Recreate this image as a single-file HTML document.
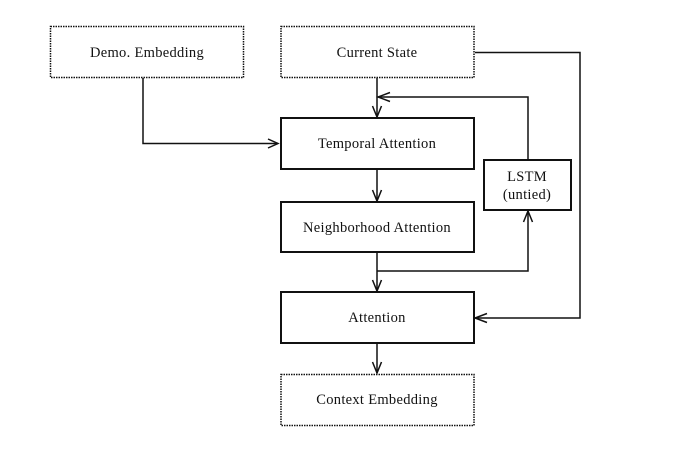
<!DOCTYPE html>
<html><head><meta charset="utf-8"><style>
html,body{margin:0;padding:0;background:#fff;width:696px;height:464px;overflow:hidden}
svg{display:block}
text{font-family:"Liberation Serif",serif;font-size:14.5px;fill:#111;text-anchor:middle;letter-spacing:0.3px}
</style></head><body>
<svg width="696" height="464" viewBox="0 0 696 464">
<g fill="none" stroke="#111">
<rect x="50.5" y="26.5" width="193" height="51" stroke-width="1.5" stroke-dasharray="1.5,1"/>
<rect x="281" y="26.5" width="193" height="51" stroke-width="1.5" stroke-dasharray="1.5,1"/>
<rect x="281" y="374.5" width="193" height="51" stroke-width="1.5" stroke-dasharray="1.5,1"/>
<rect x="281" y="118" width="193" height="51" stroke-width="2"/>
<rect x="281" y="202" width="193" height="50" stroke-width="2"/>
<rect x="281" y="292" width="193" height="51" stroke-width="2"/>
<rect x="484" y="160" width="87" height="50" stroke-width="2"/>
<g stroke-width="1.5">
<polyline points="143,78 143,143.5 278,143.5"/>
<polyline points="268,139 278,143.5 268,148"/>
<line x1="377" y1="78" x2="377" y2="117"/>
<polyline points="372.5,106 377,117 381.5,106"/>
<polyline points="528,160 528,97 378,97"/>
<polyline points="390,92.5 378,97 390,101.5"/>
<line x1="377" y1="169" x2="377" y2="201"/>
<polyline points="372.5,190 377,201 381.5,190"/>
<line x1="377" y1="252" x2="377" y2="291"/>
<polyline points="372.5,280 377,291 381.5,280"/>
<polyline points="377,271 528,271 528,211"/>
<polyline points="523.5,222 528,211 532.5,222"/>
<polyline points="475,52.5 580,52.5 580,318 475,318"/>
<polyline points="487,313.5 475,318 487,322.5"/>
<line x1="377" y1="343" x2="377" y2="373"/>
<polyline points="372.5,362 377,373 381.5,362"/>
</g>
</g>
<text x="147" y="57">Demo. Embedding</text>
<text x="377" y="57">Current State</text>
<text x="377" y="148">Temporal Attention</text>
<text x="377" y="232">Neighborhood Attention</text>
<text x="377" y="322">Attention</text>
<text x="377" y="404">Context Embedding</text>
<text x="527" y="181">LSTM</text>
<text x="527" y="199">(untied)</text>
</svg>
</body></html>
